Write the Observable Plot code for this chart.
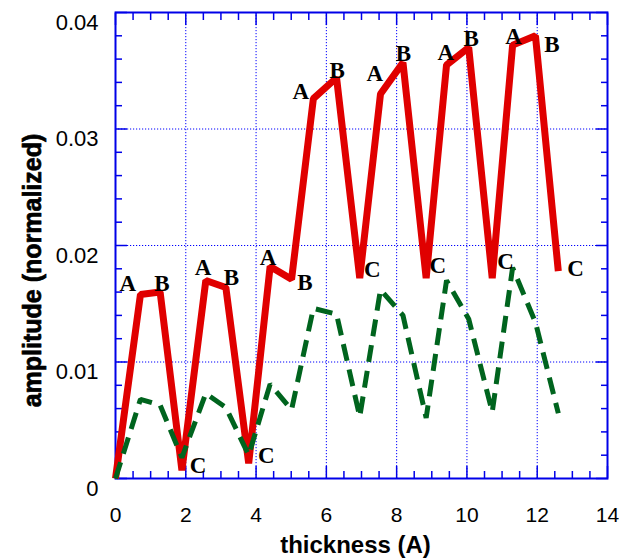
<!DOCTYPE html>
<html>
<head>
<meta charset="utf-8">
<script src="https://cdn.jsdelivr.net/npm/d3@7"></script>
<script src="https://cdn.jsdelivr.net/npm/@observablehq/plot@0.6"></script>
<style>
  body { margin: 0; background: #fff; }
</style>
</head>
<body>
<div id="chart"></div>
<script>
// ---- data ----
const thickness = [0, 0.71, 1.27, 1.89, 2.57, 3.14, 3.79, 4.40, 5.01, 5.63, 6.29, 6.95, 7.54, 8.18, 8.84, 9.42, 10.05, 10.72, 11.30, 11.95, 12.60];
const ampRed   = [0.0000, 0.0158, 0.0160, 0.0007, 0.0170, 0.0164, 0.0013, 0.0182, 0.0171, 0.0326, 0.0344, 0.0172, 0.0330, 0.0357, 0.0172, 0.0355, 0.0370, 0.0172, 0.0372, 0.0380, 0.0178];
const ampGreen = [0.0000, 0.0068, 0.0063, 0.0018, 0.0073, 0.0061, 0.0020, 0.0081, 0.0059, 0.0146, 0.0141, 0.0053, 0.0162, 0.0140, 0.0052, 0.0170, 0.0137, 0.0057, 0.0181, 0.0134, 0.0056];

const labelText = ["A","B","C","A","B","C","A","B","A","B","C","A","B","C","A","B","C","A","B","C"];
const labelX = [0.35, 1.32, 2.35, 2.49, 3.30, 4.29, 4.34, 5.39, 5.27, 6.31, 7.31, 7.38, 8.19, 9.17, 9.40, 10.12, 11.10, 11.33, 12.42, 13.09];
const labelY = [0.0161, 0.0161, 0.0005, 0.0175, 0.0166, 0.0013, 0.0183, 0.0162, 0.0326, 0.0344, 0.0173, 0.0341, 0.0358, 0.0176, 0.0359, 0.0371, 0.0180, 0.0373, 0.0366, 0.0174];

const xTickValues = [0, 2, 4, 6, 8, 10, 12, 14];
const xTickLabels = ["0", "2", "4", "6", "8", "10", "12", "14"];
const yTickValues = [0, 0.01, 0.02, 0.03, 0.04];
const yTickLabels = ["0", "0.01", "0.02", "0.03", "0.04"];
const xGridValues = [2, 4, 6, 8, 10, 12];
const yGridValues = [0.01, 0.02, 0.03];
const xMinorValues = [0.5, 1, 1.5, 2.5, 3, 3.5, 4.5, 5, 5.5, 6.5, 7, 7.5, 8.5, 9, 9.5, 10.5, 11, 11.5, 12.5, 13, 13.5];
const yMinorValues = [0.002, 0.004, 0.006, 0.008, 0.012, 0.014, 0.016, 0.018, 0.022, 0.024, 0.026, 0.028, 0.032, 0.034, 0.036, 0.038];
const xTitle = "thickness (A)";
const yTitle = "amplitude (normalized)";

// ---- build ----
const red = thickness.map((x, i) => ({x, y: ampRed[i]}));
const green = thickness.map((x, i) => ({x, y: ampGreen[i]}));
const labels = labelText.map((t, i) => ({t, x: labelX[i], y: labelY[i]}));

const blue = "#0000e8";
const gridBlue = "#0000ff";
const xFmt = d => xTickLabels[xTickValues.indexOf(d)];
const yFmt = d => yTickLabels[yTickValues.indexOf(d)];
const empty = () => "";

const tickMarks = [];
for (const anchor of ["bottom", "top"]) {
  tickMarks.push(Plot.axisX(xMinorValues, {anchor, tickSize: -7, tickFormat: empty, label: null, stroke: blue, strokeWidth: 1.5}));
  tickMarks.push(Plot.axisX(xTickValues, {anchor, tickSize: -12, tickFormat: empty, label: null, stroke: blue, strokeWidth: 1.5}));
}
for (const anchor of ["left", "right"]) {
  tickMarks.push(Plot.axisY(yMinorValues, {anchor, tickSize: -7, tickFormat: empty, label: null, stroke: blue, strokeWidth: 1.5}));
  tickMarks.push(Plot.axisY(yTickValues, {anchor, tickSize: -12, tickFormat: empty, label: null, stroke: blue, strokeWidth: 1.5}));
}

const chart = Plot.plot({
  width: 619,
  height: 560,
  marginLeft: 115,
  marginRight: 12,
  marginTop: 12,
  marginBottom: 82,
  x: {domain: [0, 14], label: null},
  y: {domain: [0, 0.04], label: null},
  style: {fontFamily: "'Liberation Sans', Arial, sans-serif", background: "#fff", color: "#000"},
  marks: [
    Plot.gridX(xGridValues, {stroke: gridBlue, strokeOpacity: 1, strokeWidth: 1, strokeDasharray: "1.2,1.8"}),
    Plot.gridY(yGridValues, {stroke: gridBlue, strokeOpacity: 1, strokeWidth: 1, strokeDasharray: "1.2,1.8"}),
    ...tickMarks,
    Plot.axisX(xTickValues, {anchor: "bottom", tickSize: 0, tickPadding: 29, tickFormat: xFmt, label: null, fontSize: 21, fill: "#000"}),
    Plot.axisY(yTickValues, {anchor: "left", tickSize: 0, tickPadding: 17, tickFormat: yFmt, label: null, fontSize: 22, fill: "#000", dy: 10}),
    Plot.frame({stroke: blue, strokeWidth: 2}),
    Plot.line(red, {x: "x", y: "y", stroke: "#e00000", strokeWidth: 7, strokeLinejoin: "miter", strokeLinecap: "butt"}),
    Plot.line(green, {x: "x", y: "y", stroke: "#00641e", strokeWidth: 5, strokeDasharray: "17,9", strokeLinejoin: "miter", strokeLinecap: "butt"}),
    Plot.text(labels, {x: "x", y: "y", text: "t", textAnchor: "middle", lineAnchor: "bottom", fontFamily: "'Liberation Serif', 'Times New Roman', serif", fontWeight: "bold", fontSize: 23, fill: "#000"}),
    Plot.text([xTitle], {frameAnchor: "bottom", text: d => d, textAnchor: "middle", lineAnchor: "bottom", dy: 74.5, dx: -6, fontSize: 24, fontWeight: "bold", fill: "#000"}),
    Plot.text([yTitle], {frameAnchor: "left", text: d => d, rotate: -90, textAnchor: "middle", lineAnchor: "bottom", dx: -75, dy: 25, fontSize: 25, fontWeight: "bold", fill: "#000", stroke: "#000", strokeWidth: 0.7})
  ]
});
document.getElementById("chart").appendChild(chart);
</script>
</body>
</html>
